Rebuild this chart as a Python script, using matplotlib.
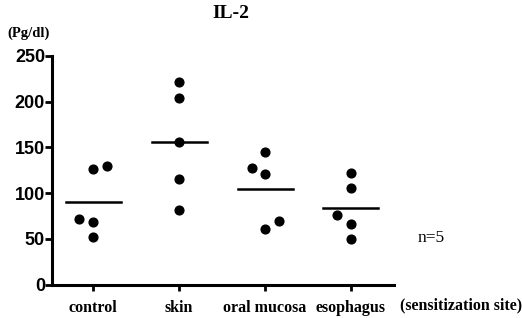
import numpy as np
import matplotlib
matplotlib.use('Agg')
import matplotlib.pyplot as plt

# IL-2 levels per sensitization site (Pg/dl), n=5 each
groups = ['control', 'skin', 'oral mucosa', 'esophagus']
control = [126.5, 129.8, 72, 69, 51.8]
skin = [221, 204, 156, 116, 82]
oral = [144.7, 128, 120.6, 60.5, 69.3]
esoph = [121.7, 106, 76, 66.7, 49.6]
# horizontal scatter of the dots within each group
jitter = [[0, 0.16, -0.16, 0, 0],
          [0, 0, 0, 0, 0],
          [0, -0.15, 0, 0, 0.16],
          [0, 0, -0.16, 0, 0]]
yticks = [0, 50, 100, 150, 200, 250]

allData = [control, skin, oral, esoph]

fig = plt.figure(figsize=(5.22, 3.18), dpi=100)
ax = fig.add_axes([0.0996, 0.105, 0.655, 0.719])

for i, vals in enumerate(allData):
    xs = np.array(jitter[i]) + i
    ax.plot(xs, vals, 'o', color='black', markersize=6.3, zorder=3)
    m = np.mean(vals)
    ax.plot([i - 0.32, i + 0.32], [m, m], color='black', lw=1.8)

ax.set_xlim(-0.48, 3.5)
ax.set_ylim(0, 250)
ax.set_yticks(yticks)
ax.set_xticks(range(len(groups)))
ax.set_xticklabels(groups, family='Liberation Serif', fontweight='bold', fontsize=11.5)
for lab in ax.get_yticklabels():
    lab.set_family('Liberation Sans')
    lab.set_fontweight('bold')
    lab.set_fontsize(13)
ax.tick_params(axis='y', length=5, width=2, pad=0)
ax.tick_params(axis='x', length=4, width=2, pad=7)
for s in ['top', 'right']:
    ax.spines[s].set_visible(False)
for s in ['left', 'bottom']:
    ax.spines[s].set_linewidth(2.2)

fig.text(231/522, 1 - 14/318, 'IL-2', ha='center', va='center',
         family='Liberation Serif', fontweight='bold', fontsize=14)
fig.text(7/522, 1 - 33/318, '(Pg/dl)', ha='left', va='center',
         family='Liberation Serif', fontweight='bold', fontsize=10.5)
fig.text(418/522, 1 - 238/318, 'n=5', ha='left', va='center',
         family='Liberation Serif', fontsize=12.5)
fig.text(400/522, 1 - 305/318, '(sensitization site)', ha='left', va='center',
         family='Liberation Serif', fontweight='bold', fontsize=11.5)

plt.savefig('out.png', dpi=100)
